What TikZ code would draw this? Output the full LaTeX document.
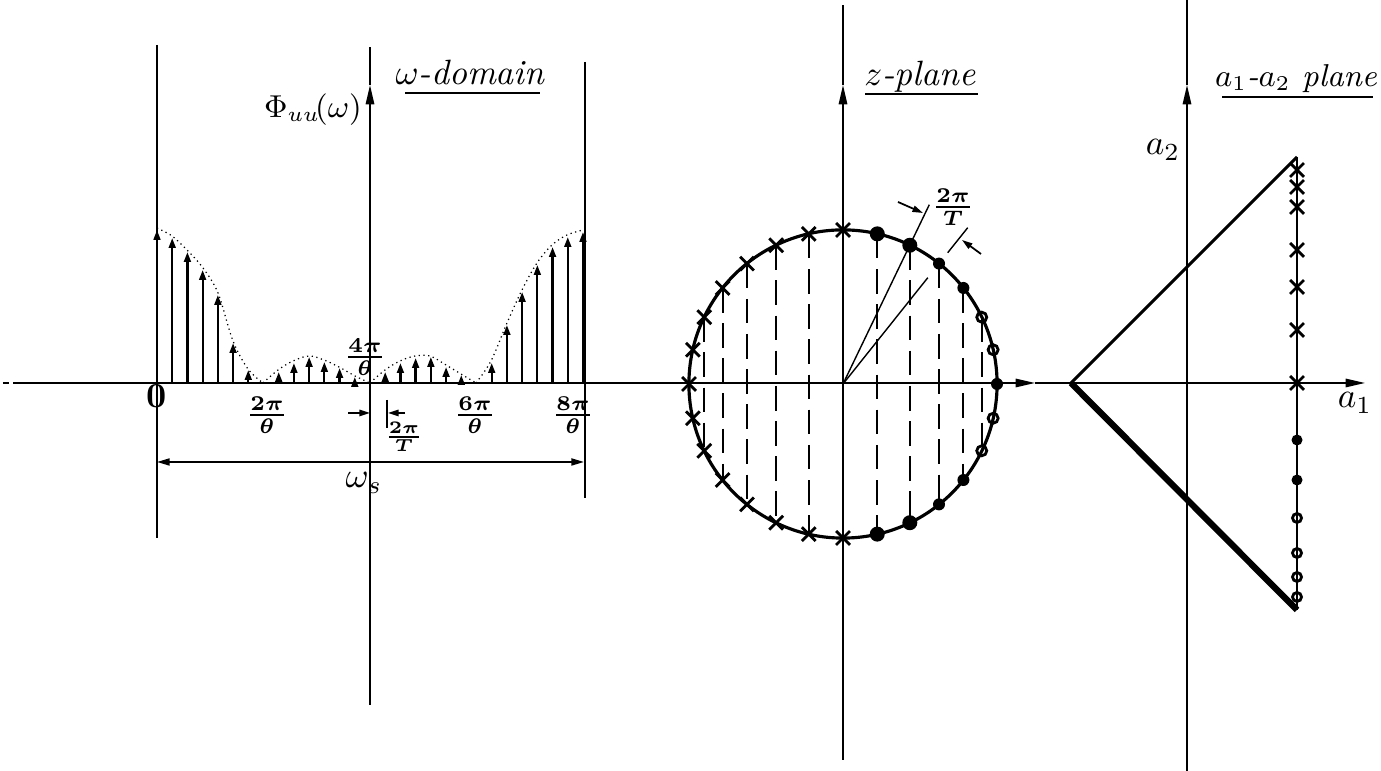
\documentclass[tikz,border=0pt]{standalone}
\usetikzlibrary{arrows.meta,shapes.misc,calc}
\begin{document}
\begin{tikzpicture}[x=0.01cm,y=-0.01cm,
 ax/.style={line width=0.45pt},
 axarrow/.style={line width=0.45pt,-{Triangle[length=5.5pt,width=2.4pt]}},
 stem/.style={line width=0.65pt,-{Triangle[length=2.8pt,width=1.9pt]}},
 env/.style={line width=0.35pt,densely dotted},
 dimarrow/.style={line width=0.5pt,-{Triangle[length=3pt,width=1.8pt]}},
 frac/.style={inner sep=0pt,font=\boldmath\footnotesize},
 ttl/.style={inner sep=0pt,anchor=base,font=\itshape},
 uline/.style={line width=0.6pt},
 xmark/.style={cross out,draw,line width=0.8pt,minimum size=0.11cm,inner sep=0pt},
 dotbig/.style={circle,fill,inner sep=0pt,minimum size=0.15cm},
 dotmed/.style={circle,fill,inner sep=0pt,minimum size=0.12cm},
 ring/.style={circle,draw,line width=0.8pt,inner sep=0pt,minimum size=0.10cm},
 zdash/.style={line width=0.6pt,dash pattern=on 7pt off 3pt},
]
\useasboundingbox (0,0) rectangle (1381,771);

% ---------------- main horizontal axis
\coordinate (hl) at (13,383);
\coordinate (hm) at (1035,383);
\coordinate (hr) at (1365,383);
\draw[axarrow] (hl) -- (hm);
\draw[axarrow] (hm) -- (hr);
\draw[line width=0.8pt] (3,383) -- (9,383);

% ---------------- vertical axes
\draw[axarrow] (370,705) -- (370,85);
\draw[ax] (370,85) -- (370,47);
\draw[ax] (157,45) -- (157,538);
\draw[ax] (585,62) -- (585,498);
\draw[axarrow] (843,760) -- (843,85);
\draw[ax] (843,85) -- (843,5);
\draw[axarrow] (1187,771) -- (1187,85);
\draw[ax] (1187,85) -- (1187,0);

% ---------------- omega-domain stems
\foreach \n/\h in {0/230,1/238,2/252,3/270,4/295,5/343,6/370,8/372,9/363,10/357,11/362,12/368,13/377,
                   15/372,16/363,17/358,18/357,19/367,20/375,22/363,23/325,24/292,25/265,26/247,27/237,28/232}
  {\draw[stem] ({157+15.214*\n},383) -- ({157+15.214*\n},\h);}

% envelope
\draw[env] plot[smooth,tension=0.55] coordinates {(157,228) (172,236) (187,250) (203,268) (218,293) (233,341) (248,369) (263,383)};
\draw[env] plot[smooth,tension=0.55] coordinates {(263,383) (278,370) (293,361) (309,356) (324,360) (339,367) (355,376) (370,383)};
\draw[env] plot[smooth,tension=0.55] coordinates {(370,383) (385,370) (400,361) (415,356) (430,356) (446,365) (461,374) (476,383)};
\draw[env] plot[smooth,tension=0.55] coordinates {(476,383) (491,361) (507,323) (522,290) (537,263) (552,245) (567,235) (583,230)};

% labels of omega-domain
\node[inner sep=0pt,font=\small] (phi) at (313,110) {$\Phi_{uu}\!(\omega)$};
\node[ttl] (wtitle) at (470,85) {$\omega$-domain};
\draw[uline] (405,93) -- (540,93);
\node[inner sep=0pt,font=\bfseries] (l0) at (157,396) {0};
\node[frac] (l2) at (267,415) {$\frac{2\pi}{\theta}$};
\node[frac] (l6) at (475,415) {$\frac{6\pi}{\theta}$};
\node[frac] (l8) at (573,415) {$\frac{8\pi}{\theta}$};
\node[frac] (l4) at (365,357) {$\frac{4\pi}{\theta}$};
\node[frac,font=\boldmath\scriptsize] (lT) at (404,437) {$\frac{2\pi}{T}$};
\draw[dimarrow] (348,413) -- (370,413);
\draw[ax] (387,400) -- (387,428);
\draw[dimarrow] (405,413) -- (388,413);
\draw[line width=0.5pt,{Triangle[length=3.6pt,width=2pt]}-{Triangle[length=3.6pt,width=2pt]}] (157,462) -- (584,462);
\node[inner sep=0pt] (ws) at (364,483) {$\omega_{s}$};

% ---------------- z-plane
\coordinate (C) at (843,384);
\draw[line width=0.9pt] (C) circle [radius=1.54cm];
\foreach \k in {2,3,4,5,6,8,9,10,11,12} {
  \pgfmathsetmacro\px{843+154*cos(\k*360/28)}
  \pgfmathsetmacro\dy{154*sin(\k*360/28)}
  \draw[zdash] (\px,{384-\dy}) -- (\px,{384+\dy});
}
\foreach \k in {7,...,21} {
  \pgfmathsetmacro\px{843+154*cos(\k*360/28)}
  \pgfmathsetmacro\py{384-154*sin(\k*360/28)}
  \node[xmark] (zx\k) at (\px,\py) {};
}
\foreach \k in {5,6,22,23} {
  \pgfmathsetmacro\px{843+154*cos(\k*360/28)}
  \pgfmathsetmacro\py{384-154*sin(\k*360/28)}
  \node[dotbig] (zb\k) at (\px,\py) {};
}
\foreach \k in {0,3,4,24,25} {
  \pgfmathsetmacro\px{843+154*cos(\k*360/28)}
  \pgfmathsetmacro\py{384-154*sin(\k*360/28)}
  \node[dotmed] (zm\k) at (\px,\py) {};
}
\foreach \k in {1,2,26,27} {
  \pgfmathsetmacro\px{843+154*cos(\k*360/28)}
  \pgfmathsetmacro\py{384-154*sin(\k*360/28)}
  \node[ring] (zr\k) at (\px,\py) {};
}
% radial lines and 2pi/T dimension
\draw[line width=0.4pt] (C) -- (929.3,204.7);
\draw[line width=0.4pt] (C) -- (927.8,277.7);
\draw[line width=0.4pt] (947.7,252.7) -- (967.7,227.7);
\draw[dimarrow] (898,202) -- (923,213);
\draw[dimarrow] (981,254) -- (962,240);
\node[frac] (zT) at (953,207) {$\frac{2\pi}{T}$};
\node[ttl] (ztitle) at (920,86) {$z$-plane};
\draw[uline] (865,94) -- (978,94);

% ---------------- a1-a2 plane
\coordinate (V) at (1071,383);
\coordinate (T) at (1297,157);
\coordinate (B) at (1297,610);
\draw[line width=0.9pt] (V) -- (T);
\draw[line width=1.8pt] (V) -- (B);
\draw[line width=0.75pt] (T) -- (B);
\foreach \y in {170,187,207,250,287,330,383}
  {\node[xmark] (ax\y) at (1297,\y) {};}
\foreach \y in {440,480}
  {\node[dotmed,minimum size=0.11cm] (af\y) at (1297,\y) {};}
\foreach \y in {518,553,577,597}
  {\node[ring,minimum size=0.09cm] (ar\y) at (1297,\y) {};}
\node (a2) at (1163,150) {$a_2$};
\node (a1) at (1355,403) {$a_1$};
\node[ttl,font=\small\itshape] (atitle) at (1296,87) {$a_1$-$a_2$ plane};
\draw[uline] (1222,97) -- (1373,97);
\end{tikzpicture}
\end{document}
